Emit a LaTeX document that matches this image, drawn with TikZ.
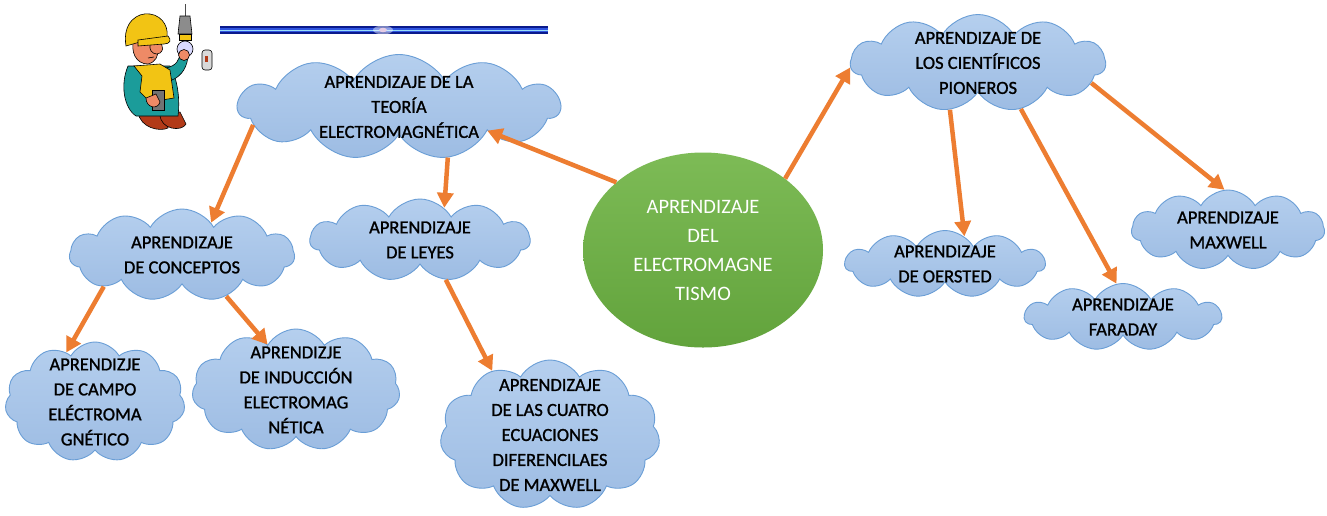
\documentclass[tikz,border=0pt]{standalone}
\usepackage{fontspec}
\setmainfont{Carlito}
\newfontfamily\cloudfont{Carlito}[FakeBold=1.2]
\usetikzlibrary{shapes.symbols,shapes.geometric,arrows.meta}
\definecolor{cloudtop}{HTML}{B5CFEE}
\definecolor{cloudbot}{HTML}{9DBCE3}
\definecolor{cloudline}{HTML}{6A9ED6}
\definecolor{arrowc}{HTML}{ED7D31}
\definecolor{hubtop}{HTML}{7DBB56}
\definecolor{hubbot}{HTML}{62A33C}
\definecolor{navy}{HTML}{0A1A8C}
\definecolor{barblue}{HTML}{2F55E0}
\definecolor{hatyellow}{HTML}{F2C414}
\definecolor{skin}{HTML}{EE8A66}
\definecolor{teal}{HTML}{1B9C9A}
\definecolor{boot}{HTML}{B23A18}
\begin{document}
\begin{tikzpicture}[x=1pt,y=-1pt,
  bubble/.style={cloud, cloud puffs=11, cloud puff arc=120, cloud ignores aspect,
    draw=cloudline, line width=0.9pt, top color=cloudtop, bottom color=cloudbot, inner sep=0pt},
  ctext/.style={align=center, font=\cloudfont\fontsize{18.5}{25}\selectfont, text=black},
  hub/.style={ellipse, top color=hubtop, bottom color=hubbot, draw=none, inner sep=0pt,
    align=center, text=white, font=\fontsize{20.5}{29}\selectfont},
  conn/.style={draw=arrowc, line width=4.5pt, -{Triangle[length=15pt,width=16pt]}},
  ink/.style={draw=black, line width=0.6pt}]

\useasboundingbox[fill=white] (0,0) rectangle (1327,515);

% decorative bar at the top
\draw[navy, line width=8pt] (220,30) -- (548,30);
\draw[barblue, line width=4.5pt] (220,30) -- (548,30);
\draw[white!60!cyan, line width=0.8pt] (220,30.5) -- (548,30.5);
\fill[white, opacity=0.45] (383,30) ellipse (10 and 4.5);
\fill[white!80!violet] (383,30) ellipse (4 and 2.2);

% worker with a light bulb
\begin{scope}
  % wire, socket and bulb
  \draw[black!70, line width=0.8pt] (185,4) -- (185,16);
  \filldraw[ink, fill=black!45] (180,16) -- (190,16) -- (192,34) -- (178,34) -- cycle;
  \filldraw[ink, fill=hatyellow] (179,34) rectangle (191,40);
  \filldraw[ink, fill=white!85!blue] (185,49) circle (8);
  % switch on the wall
  \filldraw[ink, fill=black!15, rounded corners=3pt] (202,50) rectangle (212,70);
  \fill[boot] (205,56) rectangle (208,62);
  % boots
  \filldraw[ink, fill=boot] (138,112) .. controls (140,128) and (160,132) .. (168,128)
     -- (168,114) -- cycle;
  \filldraw[ink, fill=boot] (160,114) .. controls (160,130) and (182,132) .. (186,124)
     -- (180,112) -- cycle;
  % body
  \filldraw[ink, fill=teal] (128,66) .. controls (120,85) and (124,108) .. (136,116)
     -- (178,116) .. controls (180,100) and (178,80) .. (170,66) -- cycle;
  % raised arm
  \filldraw[ink, fill=teal] (166,68) .. controls (176,66) and (180,60) .. (180,52)
     -- (188,54) .. controls (188,66) and (182,76) .. (172,80) -- cycle;
  \filldraw[ink, fill=skin] (184,55) circle (5.5);
  % vest
  \filldraw[ink, fill=hatyellow] (134,66) -- (160,64) -- (170,70) -- (174,98)
     -- (150,102) -- (140,92) -- (142,76) -- cycle;
  % hand with tool
  \filldraw[ink, fill=black!55] (152,90) rectangle (164,110);
  \filldraw[ink, fill=skin] (146,98) .. controls (146,108) and (158,110) .. (160,102)
     -- (156,94) -- cycle;
  % head
  \filldraw[ink, fill=skin] (134,38) .. controls (130,52) and (136,64) .. (148,64)
     .. controls (156,62) and (158,56) .. (158,50) -- (156,36) -- cycle;
  \filldraw[ink, fill=skin] (150,42) .. controls (162,40) and (166,48) .. (160,53)
     .. controls (156,56) and (150,52) .. (150,48) -- cycle;
  \fill[black] (150,40) circle (1.5);
  \draw[ink] (148,58) -- (154,57);
  % hard hat
  \filldraw[ink, fill=hatyellow] (126,46) .. controls (122,22) and (138,12) .. (150,14)
     .. controls (164,16) and (170,30) .. (166,40) -- (140,42) -- cycle;
  \filldraw[ink, fill=hatyellow] (138,40) -- (168,36) .. controls (172,40) and (170,44) .. (164,44)
     -- (138,46) -- cycle;
\end{scope}

% central topic
\node[hub, minimum width=240pt, minimum height=195pt] (hub) at (703,250)
  {APRENDIZAJE\\DEL\\ELECTROMAGNE\\TISMO};

% left branch
\node[bubble, minimum width=322pt, minimum height=105pt,
  label={[ctext]center:APRENDIZAJE DE LA\\TEORÍA\\ELECTROMAGNÉTICA}] (teoria) at (399,107) {};
\node[bubble, minimum width=225pt, minimum height=92pt,
  label={[ctext]center:APRENDIZAJE\\DE CONCEPTOS}] (conceptos) at (182,255) {};
\node[bubble, minimum width=220pt, minimum height=82pt,
  label={[ctext]center:APRENDIZAJE\\DE LEYES}] (leyes) at (420,240) {};
\node[bubble, minimum width=180pt, minimum height=120pt,
  label={[ctext]center:APRENDIZJE\\DE CAMPO\\ELÉCTROMA\\GNÉTICO}] (campo) at (95,402) {};
\node[bubble, minimum width=208pt, minimum height=122pt,
  label={[ctext]center:APRENDIZJE\\DE INDUCCIÓN\\ELECTROMAG\\NÉTICA}] (induccion) at (296,390) {};
\node[bubble, minimum width=220pt, minimum height=150pt,
  label={[ctext]center:APRENDIZAJE\\DE LAS CUATRO\\ECUACIONES\\DIFERENCILAES\\DE MAXWELL}] (cuatro) at (550,435) {};

% right branch
\node[bubble, minimum width=255pt, minimum height=97pt,
  label={[ctext]center:APRENDIZAJE DE\\LOS CIENTÍFICOS\\PIONEROS}] (pioneros) at (978,63) {};
\node[bubble, minimum width=200pt, minimum height=67pt,
  label={[ctext]center:APRENDIZAJE\\DE OERSTED}] (oersted) at (945,264) {};
\node[bubble, minimum width=197pt, minimum height=67pt,
  label={[ctext]center:APRENDIZAJE\\FARADAY}] (faraday) at (1123,317) {};
\node[bubble, minimum width=193pt, minimum height=80pt,
  label={[ctext]center:APRENDIZAJE\\MAXWELL}] (maxwell) at (1228,230) {};

% connectors
\draw[conn] (hub.142) -- (teoria.-15);
\draw[conn] (hub.41) -- (pioneros.182);
\draw[conn] (teoria.187) -- (conceptos.48);
\draw[conn] (teoria.-46) -- (leyes.53);
\draw[conn] (conceptos.202) -- (campo.120);
\draw[conn] (conceptos.-43) -- (induccion.122);
\draw[conn] (leyes.-57) -- (cuatro.132);
\draw[conn] (pioneros.239) -- (oersted.55);
\draw[conn] (pioneros.-47) -- (faraday.101);
\draw[conn] (pioneros.-10) -- (maxwell.95);
\end{tikzpicture}
\end{document}
